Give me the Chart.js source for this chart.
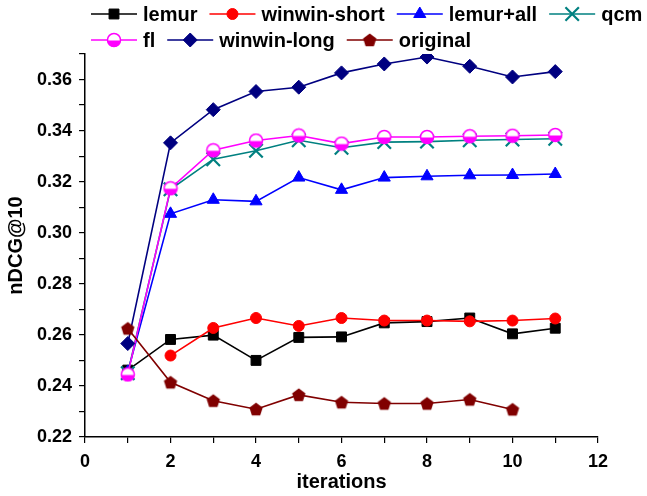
<!DOCTYPE html>
<html>
<head>
<meta charset="utf-8">
<script src="https://cdn.jsdelivr.net/npm/chart.js@4.4.1/dist/chart.umd.min.js"></script>
<style>
  html, body { margin: 0; padding: 0; background: #fff; }
  #wrap { width: 647px; height: 496px; }
</style>
</head>
<body>
<div id="wrap"><canvas id="line-chart"></canvas></div>
<script>
const iterations = [1, 2, 3, 4, 5, 6, 7, 8, 9, 10, 11];
const lemur = [0.2462, 0.2582, 0.2599, 0.2500, 0.2590, 0.2592, 0.2647, 0.2652, 0.2666, 0.2604, 0.2626];
const winwinShort = [null, 0.2519, 0.2627, 0.2666, 0.2635, 0.2666, 0.2656, 0.2656, 0.2653, 0.2656, 0.2664];
const lemurAll = [0.2455, 0.3074, 0.3129, 0.3123, 0.3216, 0.3168, 0.3216, 0.3221, 0.3225, 0.3226, 0.3230];
const qcm = [0.2450, 0.3170, 0.3288, 0.3321, 0.3362, 0.3333, 0.3355, 0.3357, 0.3362, 0.3365, 0.3368];
const fl = [0.2445, 0.3174, 0.3323, 0.3361, 0.3381, 0.3349, 0.3375, 0.3375, 0.3378, 0.3380, 0.3383];
const winwinLong = [0.2566, 0.3352, 0.3482, 0.3553, 0.3570, 0.3626, 0.3661, 0.3688, 0.3652, 0.3610, 0.3631];
const original = [0.2625, 0.2414, 0.2342, 0.2309, 0.2365, 0.2336, 0.2331, 0.2331, 0.2347, 0.2308, null];
const xTicks = [0, 2, 4, 6, 8, 10, 12];

const FONT = "'Liberation Sans', Arial, sans-serif";

// half filled circle used by "fl"
function halfCircle() {
  const c = document.createElement('canvas');
  c.width = 16; c.height = 16;
  const g = c.getContext('2d');
  g.fillStyle = '#fff';
  g.beginPath(); g.arc(8, 8, 6.5, 0, Math.PI * 2); g.fill();
  g.fillStyle = '#ff00ff';
  g.beginPath(); g.moveTo(1.5, 8.5); g.arc(8, 8.5, 6.5, Math.PI, 0, true); g.closePath(); g.fill();
  g.strokeStyle = '#ff00ff'; g.lineWidth = 1.5;
  g.beginPath(); g.arc(8, 8, 6.5, 0, Math.PI * 2); g.stroke();
  return c;
}

function pentagon(color) {
  const c = document.createElement('canvas');
  c.width = 16; c.height = 16;
  const g = c.getContext('2d');
  g.fillStyle = color;
  g.beginPath();
  for (let k = 0; k < 5; k++) {
    const a = -Math.PI / 2 + k * 2 * Math.PI / 5;
    const px = 8 + 7 * Math.cos(a), py = 8.6 + 7 * Math.sin(a);
    k ? g.lineTo(px, py) : g.moveTo(px, py);
  }
  g.closePath(); g.fill();
  return c;
}

function pts(arr) {
  return arr.map((v, i) => ({ x: iterations[i], y: v }));
}

function ds(label, arr, color, style, radius, extra) {
  return Object.assign({
    label: label,
    data: pts(arr),
    borderColor: color,
    backgroundColor: color,
    borderWidth: 1.6,
    pointStyle: style,
    pointRadius: radius,
    pointBorderWidth: 1,
    pointBackgroundColor: color,
    pointBorderColor: color,
    tension: 0,
    spanGaps: false
  }, extra || {});
}

const datasets = [
  ds('lemur', lemur, '#000000', 'rect', 7),
  ds('winwin-short', winwinShort, '#ff0000', 'circle', 5.5),
  ds('lemur+all', lemurAll, '#0000ff', 'triangle', 7),
  ds('qcm', qcm, '#008080', 'crossRot', 9.5, { pointBorderWidth: 2.2 }),
  ds('fl', fl, '#ff00ff', halfCircle(), 7),
  ds('winwin-long', winwinLong, '#000080', 'rectRot', 7),
  ds('original', original, '#800000', pentagon('#800000'), 7)
];
// later series on top
datasets.forEach((d, i) => { d.order = datasets.length - 1 - i; });

// legend: short line with marker, flowing in rows
const lineLegend = {
  id: 'lineLegend',
  afterDraw(chart) {
    const ctx = chart.ctx;
    ctx.save();
    ctx.font = 'bold 20px ' + FONT;
    ctx.textBaseline = 'middle';
    let x = 91, y = 14;
    chart.data.datasets.forEach(d => {
      const w = 46 + 6 + ctx.measureText(d.label).width;
      if (x + w > chart.width) { x = 91; y += 26; }
      ctx.strokeStyle = d.borderColor;
      ctx.lineWidth = 1.6;
      ctx.beginPath(); ctx.moveTo(x, y); ctx.lineTo(x + 46, y); ctx.stroke();
      ctx.fillStyle = d.pointBackgroundColor;
      ctx.strokeStyle = d.pointBorderColor;
      ctx.lineWidth = d.pointBorderWidth;
      Chart.helpers.drawPoint(ctx, {
        pointStyle: d.pointStyle, radius: d.pointRadius, rotation: 0, borderWidth: d.pointBorderWidth
      }, x + 23, y);
      ctx.fillStyle = '#000';
      ctx.fillText(d.label, x + 52, y + 1);
      x += w + 12;
    });
    ctx.restore();
  }
};

new Chart(document.getElementById('line-chart'), {
  type: 'line',
  data: { datasets: datasets },
  options: {
    responsive: true,
    maintainAspectRatio: false,
    animation: false,
    events: [],
    layout: { padding: { top: 54, right: 49, left: 0, bottom: 4 } },
    plugins: {
      legend: { display: false },
      tooltip: { enabled: false }
    },
    scales: {
      x: {
        type: 'linear',
        min: 0,
        max: 12,
        afterBuildTicks(axis) {
          axis.ticks = [];
          for (let v = 0; v <= 12; v++) axis.ticks.push({ value: v });
        },
        afterFit(axis) { axis.height = 55; },
        ticks: {
          color: '#000',
          font: { family: FONT, size: 18, weight: 'bold', lineHeight: 1 },
          padding: 10,
          maxRotation: 0,
          autoSkip: false,
          callback: v => xTicks.includes(v) ? String(v) : ''
        },
        grid: { drawOnChartArea: false, drawTicks: true, tickLength: 6, color: '#000', lineWidth: 1.2 },
        border: { display: true, color: '#000', width: 1.5 },
        title: {
          display: true, text: 'iterations', color: '#000',
          font: { family: FONT, size: 20, weight: 'bold', lineHeight: 1 }, padding: { top: 0, bottom: 0 }
        }
      },
      y: {
        min: 0.22,
        max: 0.37,
        afterBuildTicks(axis) {
          axis.ticks = [];
          for (let k = 22; k <= 37; k++) axis.ticks.push({ value: k / 100 });
        },
        ticks: {
          color: '#000',
          font: { family: FONT, size: 18, weight: 'bold' },
          padding: 7,
          autoSkip: false,
          callback: v => Math.round(v * 100) % 2 === 0 && Math.round(v * 100) < 37 ? v.toFixed(2) : ''
        },
        grid: { drawOnChartArea: false, drawTicks: true, tickLength: 6, color: '#000', lineWidth: 1.2 },
        border: { display: true, color: '#000', width: 1.5 },
        title: {
          display: true, text: 'nDCG@10', color: '#000',
          font: { family: FONT, size: 20, weight: 'bold' }, padding: { bottom: 2 }
        }
      }
    }
  },
  plugins: [lineLegend]
});
</script>
</body>
</html>
